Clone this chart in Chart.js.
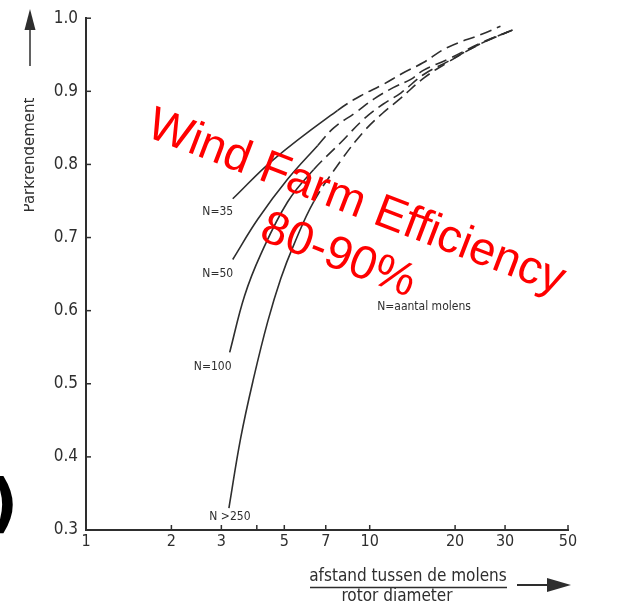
<!DOCTYPE html>
<html>
<head>
<meta charset="utf-8">
<style>
html, body { margin: 0; padding: 0; background: #fff; }
</style>
<script src="https://cdn.jsdelivr.net/npm/chart.js@4.4.1/dist/chart.umd.min.js"></script>
</head>
<body>
<canvas id="grafiek" width="619" height="604"></canvas>
<script>
// Waarden
const curveLabels = ["N=35", "N=50", "N=100", "N >250"];

const n35X = [3.29, 4.59, 7.71, 9.30, 11.1, 13.1, 15.4, 18.8, 24.8, 28.9];
const n35Y = [0.753, 0.807, 0.874, 0.894, 0.909, 0.925, 0.939, 0.960, 0.978, 0.989];

const n50X = [3.29, 4.03, 5.14, 6.56, 7.47, 8.92, 10.3, 12.1, 13.9, 15.5, 18.9, 24.6, 31.9];
const n50Y = [0.670, 0.725, 0.780, 0.826, 0.850, 0.871, 0.889, 0.905, 0.916, 0.929, 0.944, 0.966, 0.984];

const n100X = [3.21, 3.62, 4.13, 5.14, 6.35, 7.91, 9.53, 11.1, 12.9, 15.5, 18.9, 24.6, 31.9];
const n100Y = [0.543, 0.620, 0.677, 0.749, 0.793, 0.830, 0.862, 0.882, 0.898, 0.923, 0.941, 0.965, 0.984];

const n250X = [3.19, 3.51, 3.90, 4.37, 4.86, 5.40, 6.35, 7.91, 9.53, 11.1, 12.9, 15.5, 18.9, 24.6, 31.9];
const n250Y = [0.330, 0.426, 0.508, 0.585, 0.644, 0.690, 0.749, 0.805, 0.845, 0.870, 0.891, 0.918, 0.940, 0.965, 0.984];

// vanaf deze afstand wordt de lijn gestreept
const dashFrom = [7.7, 6.5, 6.3, 6.3];

const xTickValues = [1, 2, 3, 4, 5, 7, 10, 20, 30, 50];
const xTickLabels = ["1", "2", "3", "", "5", "7", "10", "20", "30", "50"];
const yTickValues = [0.3, 0.4, 0.5, 0.6, 0.7, 0.8, 0.9, 1.0];

const curvesX = [n35X, n50X, n100X, n250X];
const curvesY = [n35Y, n50Y, n100Y, n250Y];

// label positie t.o.v. het beginpunt van elke lijn
const labelOffset = [[-15, 13], [-15, 14], [-17, 15], [1, 9]];

const inkColor = "#2e2e2e";
const smallFont = '"DejaVu Sans Condensed", "DejaVu Sans", sans-serif';

const extraTekst = {
    id: "extraTekst",
    afterDraw(chart) {
        const { ctx, chartArea } = chart;
        const xs = chart.scales.x;
        const ys = chart.scales.y;
        ctx.save();

        // tickjes naar binnen
        ctx.strokeStyle = inkColor;
        ctx.lineWidth = 1.5;
        yTickValues.forEach(v => {
            const py = ys.getPixelForValue(v);
            ctx.beginPath();
            ctx.moveTo(chartArea.left, py);
            ctx.lineTo(chartArea.left + 5, py);
            ctx.stroke();
        });
        xTickValues.slice(1).forEach(v => {
            const px = xs.getPixelForValue(v);
            ctx.beginPath();
            ctx.moveTo(px, chartArea.bottom);
            ctx.lineTo(px, chartArea.bottom - 5);
            ctx.stroke();
        });

        // labels bij de lijnen
        ctx.fillStyle = inkColor;
        ctx.font = "12px " + smallFont;
        ctx.textAlign = "center";
        ctx.textBaseline = "middle";
        curveLabels.forEach((lab, i) => {
            const p = chart.getDatasetMeta(i).data[0];
            ctx.fillText(lab, p.x + labelOffset[i][0], p.y + labelOffset[i][1]);
        });
        ctx.fillText("N=aantal molens", 424, 307);

        // y-as titel met pijl
        ctx.save();
        ctx.beginPath();
        ctx.rect(24, 0, 40, 300);
        ctx.clip();
        ctx.translate(30, 155);
        ctx.rotate(-Math.PI / 2);
        ctx.font = '15px "DejaVu Sans", sans-serif';
        ctx.fillText("Parkrendement", 0, 0);
        ctx.restore();
        ctx.beginPath();
        ctx.moveTo(30, 66);
        ctx.lineTo(30, 28);
        ctx.stroke();
        ctx.beginPath();
        ctx.moveTo(30, 9);
        ctx.lineTo(24.5, 30);
        ctx.lineTo(35.5, 30);
        ctx.closePath();
        ctx.fill();

        // x-as titel met pijl
        ctx.font = "17px " + smallFont;
        ctx.fillText("afstand tussen de molens", 408, 577);
        ctx.fillText("rotor diameter", 397, 597);
        ctx.beginPath();
        ctx.moveTo(310, 587.5);
        ctx.lineTo(507, 587.5);
        ctx.stroke();
        ctx.lineWidth = 2;
        ctx.beginPath();
        ctx.moveTo(517, 585);
        ctx.lineTo(550, 585);
        ctx.stroke();
        ctx.beginPath();
        ctx.moveTo(571, 585);
        ctx.lineTo(547, 578);
        ctx.lineTo(547, 592);
        ctx.closePath();
        ctx.fill();

        // rest van een afgesneden haakje links
        ctx.fillStyle = "#000";
        ctx.font = 'bold 64px "DejaVu Sans", sans-serif';
        ctx.textAlign = "left";
        ctx.fillText(")", -11, 508);

        // rode tekst
        ctx.fillStyle = "#ff0000";
        ctx.font = '47px "Liberation Sans", Arial, sans-serif';
        ctx.textAlign = "center";
        const hoek = 21 * Math.PI / 180;
        ctx.save();
        ctx.translate(356, 203);
        ctx.rotate(hoek);
        ctx.fillText("Wind Farm Efficiency", 0, 0);
        ctx.restore();
        ctx.save();
        ctx.translate(338, 256);
        ctx.rotate(hoek);
        ctx.fillText("80-90%", 0, 0);
        ctx.restore();

        ctx.restore();
    }
};

const ctx = document.getElementById("grafiek").getContext("2d");

new Chart(ctx, {
    type: "line",
    data: {
        datasets: curvesX.map((xs, i) => ({
            label: curveLabels[i],
            data: xs.map((x, j) => ({ x: x, y: curvesY[i][j] })),
            borderColor: inkColor,
            borderWidth: 1.6,
            pointRadius: 0,
            fill: false,
            tension: 0.4,
            segment: {
                borderDash: c => c.p0.parsed.x >= dashFrom[i] ? [12, 6] : undefined
            }
        }))
    },
    options: {
        responsive: false,
        animation: false,
        layout: { padding: { top: 15, right: 51, left: 0, bottom: 0 } },
        plugins: {
            legend: { display: false },
            tooltip: { enabled: false }
        },
        scales: {
            x: {
                type: "logarithmic",
                min: 1,
                max: 50,
                afterBuildTicks: s => { s.ticks = xTickValues.map(v => ({ value: v })); },
                afterFit: s => { s.height = 74; },
                ticks: {
                    autoSkip: false,
                    maxRotation: 0,
                    padding: 2,
                    color: inkColor,
                    font: { family: smallFont, size: 16 },
                    callback: v => xTickLabels[xTickValues.indexOf(v)]
                },
                grid: { display: false, drawTicks: false },
                border: { color: inkColor, width: 2 }
            },
            y: {
                min: 0.3,
                max: 1.0,
                afterFit: s => { s.width = 86; },
                ticks: {
                    stepSize: 0.1,
                    padding: 8,
                    color: inkColor,
                    font: { family: smallFont, size: 17 },
                    callback: v => v.toFixed(1)
                },
                grid: { display: false, drawTicks: false },
                border: { color: inkColor, width: 2 }
            }
        }
    },
    plugins: [extraTekst]
});
</script>
</body>
</html>
